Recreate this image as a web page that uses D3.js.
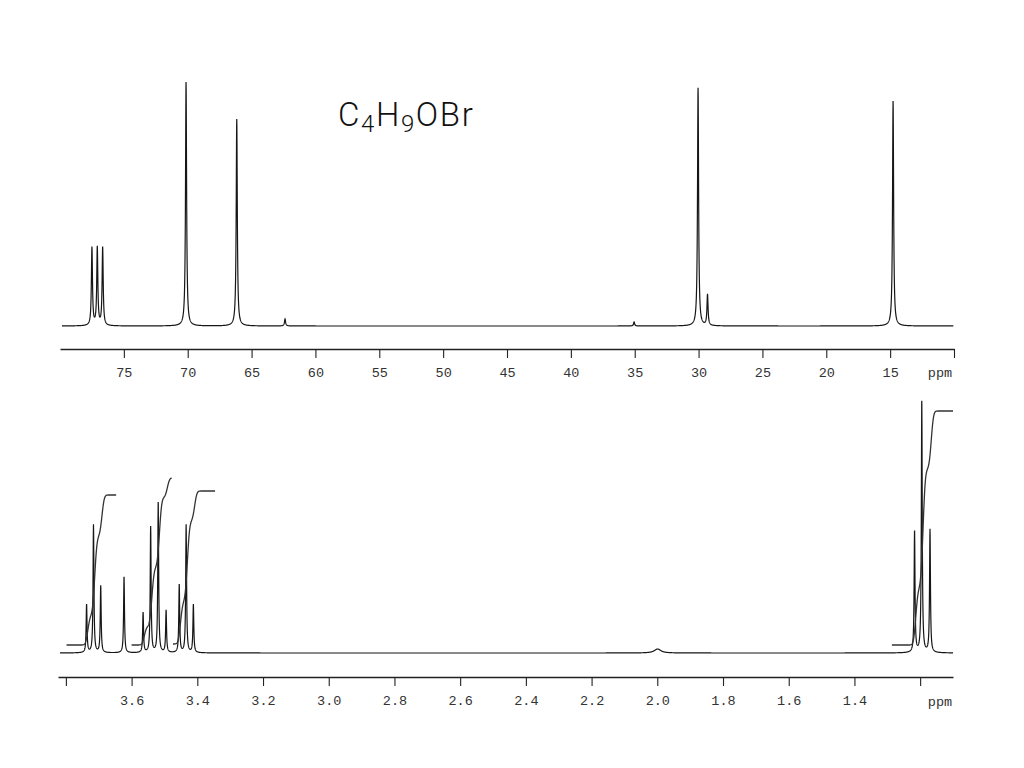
<!DOCTYPE html>
<html><head><meta charset="utf-8">
<script src="https://cdn.jsdelivr.net/npm/d3@7"></script>
<style>body{margin:0;background:#fff}svg{display:block}</style>
</head><body>
<svg id="c" width="1024" height="768"></svg>
<script>
// ---- data ----
const formulaParts = [["C",0],["4",1],["H",0],["9",1],["OBr",0]];
// 13C spectrum: [ppm, intensity]
const c13Peaks = [[77.50,31.2],[77.08,31.2],[76.66,31.2],[70.13,97.6],[66.16,82.8],
                  [62.38,2.8],[35.05,1.6],[30.04,95.2],[29.30,12.4],[14.77,90.0]];
// 1H spectrum: [ppm, intensity, width]
const h1Peaks = [[3.737,19.2],[3.716,51.2],[3.694,26.8],[3.623,30.4],
                 [3.565,16.0],[3.542,50.4],[3.519,60.0],[3.495,16.8],
                 [3.455,27.2],[3.434,51.2],[3.412,19.2],
                 [1.999,1.6,0.012],
                 [1.217,48.4],[1.195,100.4],[1.170,49.2]];
// integrals: [start ppm, end ppm, start level, end level]
const h1Integrals = [[3.798,3.647,3.2,63.2],[3.600,3.478,3.2,70.0],
                     [3.474,3.346,3.6,64.8],[1.286,1.100,3.2,96.8]];
const c13MajorTicks = [75,70,65,60,55,50,45,40,35,30,25,20,15,10];
const c13Labeled = [75,70,65,60,55,50,45,40,35,30,25,20,15];
const h1MajorTicks = [3.8,3.6,3.4,3.2,3.0,2.8,2.6,2.4,2.2,2.0,1.8,1.6,1.4,1.2];
const h1Labeled = [3.6,3.4,3.2,3.0,2.8,2.6,2.4,2.2,2.0,1.8,1.6,1.4];
const h1MinorTicks = [3.7,3.5,3.3,3.1,2.9,2.7,2.5,2.3,2.1,1.9,1.7,1.5,1.3];
const unitLabel = "ppm";

const svg = d3.select("#c");

// ---- scales ----
const xTop = d3.scaleLinear().domain([80,10]).range([60,954]);
const yTop = d3.scaleLinear().domain([0,100]).range([326,76]);
const xBot = d3.scaleLinear().domain([3.824,1.100]).range([58,953]);
const yBot = d3.scaleLinear().domain([0,100]).range([653,403]);

function lor(x, x0, h, w){ return h*w*w/((x-x0)*(x-x0)+w*w); }
function gau(x, x0, h, s){ const d=(x-x0)/s; return h*Math.exp(-0.5*d*d); }

function spectrum(peaks, from, to, step, wDef){
  const xs = d3.range(from, to, -step);
  peaks.forEach(p => xs.push(p[0]));
  xs.push(to);
  xs.sort((a,b)=>b-a);
  return xs.map(x => [x, d3.sum(peaks, p => lor(x, p[0], p[1], p[2]||wDef))]);
}

const line = (xs, ys) => d3.line().x(d=>xs(d[0])).y(d=>ys(d[1]));

// top spectrum
svg.append("path").datum(spectrum(c13Peaks, 79.85, 10.05, 0.01, 0.05))
  .attr("d", line(xTop,yTop)).attr("fill","none").attr("stroke","#161616").attr("stroke-width",1.2);

// bottom spectrum
svg.append("path").datum(spectrum(h1Peaks, 3.818, 1.100, 0.0004, 0.0016))
  .attr("d", line(xBot,yBot)).attr("fill","none").attr("stroke","#161616").attr("stroke-width",1.2);

// integrals
h1Integrals.forEach(([a,b,l0,l1]) => {
  const xs = d3.range(a, b, -0.0003); xs.push(b);
  const inRange = h1Peaks.filter(p => p[0] < a && p[0] > b);
  const vals = xs.map(x => d3.sum(inRange, p => gau(x, p[0]-0.004, p[1], 0.0055)));
  let cum = 0; const c = vals.map(v => (cum += v));
  const tot = cum;
  const pts = xs.map((x,i) => [x, l0 + (l1-l0)*c[i]/tot]);
  svg.append("path").datum(pts).attr("d", line(xBot,yBot))
    .attr("fill","none").attr("stroke","#333").attr("stroke-width",1.3);
});

// ---- axes ----
function drawAxis(scale, y, majors, labeled, minors, fmt, major, minor){
  const g = svg.append("g").attr("transform",`translate(0,${y})`);
  g.call(d3.axisBottom(scale).tickValues(minors).tickSize(minor).tickSizeOuter(0).tickFormat(""));
  g.call(d3.axisBottom(scale).tickValues(majors).tickSize(major).tickSizeOuter(0)
      .tickFormat(d => labeled.some(v=>Math.abs(v-d)<1e-9) ? fmt(d) : ""));
  g.selectAll("path.domain").attr("stroke","#222").attr("stroke-width",1.3);
  g.selectAll("line").attr("stroke","#222").attr("stroke-width",1.1);
  g.selectAll("text").attr("font-family","'Liberation Mono','DejaVu Sans Mono',monospace")
    .attr("font-size",13.5).attr("fill","#333").attr("dy","1.2em");
  return g;
}
const topMinors = d3.range(79,10,-1).filter(v => v%5!==0);
drawAxis(xTop, 349, c13MajorTicks, c13Labeled, topMinors, d3.format("d"), 9, 5);
drawAxis(xBot, 677, h1MajorTicks, h1Labeled, h1MinorTicks, d3.format(".1f"), 9, 6);

svg.append("text").attr("x",940).attr("y",377).attr("text-anchor","middle")
  .attr("font-family","'Liberation Mono',monospace").attr("font-size",13.5).attr("fill","#333").text(unitLabel);
svg.append("text").attr("x",940).attr("y",706).attr("text-anchor","middle")
  .attr("font-family","'Liberation Mono',monospace").attr("font-size",13.5).attr("fill","#333").text(unitLabel);

// ---- title ----
const t = svg.append("text").attr("x",338).attr("y",126)
  .attr("font-family","Roboto,'Liberation Sans',sans-serif").attr("font-weight",300)
  .attr("font-size",33).attr("letter-spacing",1.6).attr("fill","#111");
formulaParts.forEach(([s,sub],i) => {
  const prev = i>0 ? formulaParts[i-1][1] : 0;
  const ts = t.append("tspan").text(s).attr("dy", sub ? 6 : (prev ? -6 : 0));
  if(sub) ts.attr("font-size",24);
});
</script>
</body></html>
